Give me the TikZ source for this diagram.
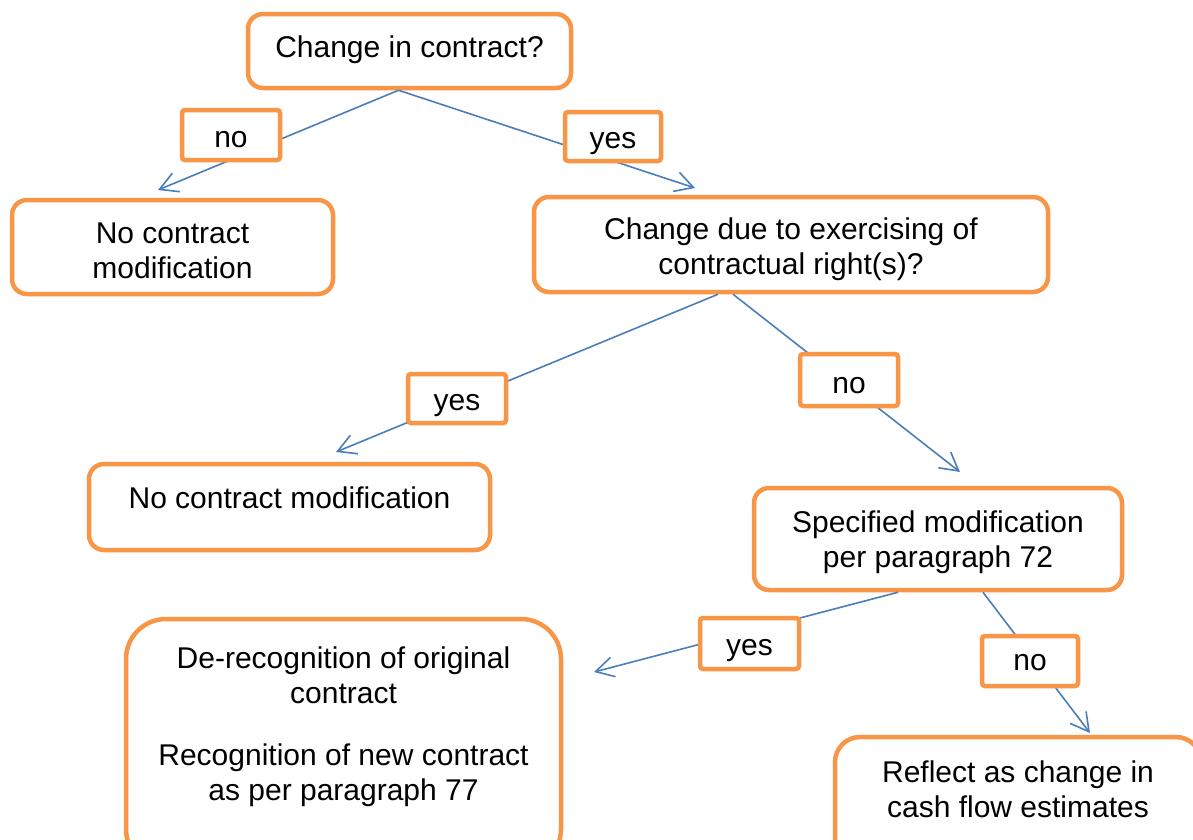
\documentclass[tikz,border=0pt]{standalone}
\usepackage{fontspec}
\setmainfont{Liberation Sans}
\usetikzlibrary{arrows.meta}
\definecolor{boxorange}{HTML}{F79646}
\definecolor{linkblue}{HTML}{4A7EBB}
\begin{document}
\begin{tikzpicture}[x=1pt,y=-1pt,
  txt/.style={font=\fontsize{30}{35}\selectfont, align=center, anchor=base, inner sep=0pt},
  bigbox/.style={draw=boxorange, line width=4.5pt, rounded corners=15pt, fill=white, inner sep=0pt},
  lab/.style={draw=boxorange, line width=4.5pt, rounded corners=3pt, fill=white, inner sep=0pt},
  link/.style={draw=linkblue, line width=1.6pt, -{Straight Barb[length=18pt,width=20pt]}},
]
\clip (0,0) rectangle (1193,839);
\fill[white] (0,0) rectangle (1193,839);

% main boxes
\node[bigbox, minimum width=323pt, minimum height=74pt] (top) at (409.5,51) {};
\node[bigbox, minimum width=321pt, minimum height=94pt] (ncmA) at (172.5,247) {};
\node[bigbox, minimum width=514pt, minimum height=95pt] (cdue) at (791,244.5) {};
\node[bigbox, minimum width=401pt, minimum height=86pt] (ncmB) at (289.5,507) {};
\node[bigbox, minimum width=368pt, minimum height=102pt] (spec) at (938,539) {};
\node[bigbox, rounded corners=40pt, minimum width=435pt, minimum height=250pt] (derec) at (343.5,744) {};
\node[bigbox, rounded corners=25pt, minimum width=366pt, minimum height=150pt] (reflect) at (1018,812) {};

% box texts (base = baseline of last line)
\node[txt] (toptext) at (409.5,57) {Change in contract?};
\node[txt] (ncmAtext) at (172.5,278) {No contract\\modification};
\node[txt] (cduetext) at (791,274) {Change due to exercising of\\contractual right(s)?};
\node[txt] (ncmBtext) at (289.5,508) {No contract modification};
\node[txt] (spectext) at (938,567) {Specified modification\\per paragraph 72};
\node[txt] (derectext) at (343.5,800) {De-recognition of original\\contract\\[27pt]Recognition of new contract\\as per paragraph 77};
\node[txt] (reflecttext) at (1018,817) {Reflect as change in\\cash flow estimates};

% arrow tips
\coordinate (t1) at (158,190);
\coordinate (t2) at (695,188);
\coordinate (t3) at (336,452);
\coordinate (t4) at (960,472);
\coordinate (t5) at (594,672);
\coordinate (t6) at (1090,733);

% connectors
\draw[link] ([xshift=-11pt]top.south) -- (t1);
\draw[link] ([xshift=-11pt]top.south) -- (t2);
\draw[link] ([xshift=-73pt]cdue.south) -- (t3);
\draw[link] ([xshift=-58pt]cdue.south) -- (t4);
\draw[link] ([xshift=-40pt]spec.south) -- (t5);
\draw[link] ([xshift=45pt]spec.south) -- (t6);

% labels
\node[lab, minimum width=98pt, minimum height=50pt] (noA) at (231,135) {};
\node[lab, minimum width=96pt, minimum height=49pt] (yesA) at (613,136.5) {};
\node[lab, minimum width=98pt, minimum height=49pt] (yesB) at (457,398.5) {};
\node[lab, minimum width=98pt, minimum height=52pt] (noB) at (849,380) {};
\node[lab, minimum width=99pt, minimum height=51pt] (yesC) at (749.5,643.5) {};
\node[lab, minimum width=96pt, minimum height=50pt] (noC) at (1030,661) {};
\node[txt] (noAtext) at (noA |- 0,147) {no};
\node[txt] (yesAtext) at (yesA |- 0,148) {yes};
\node[txt] (yesBtext) at (yesB |- 0,410) {yes};
\node[txt] (noBtext) at (noB |- 0,393) {no};
\node[txt] (yesCtext) at (yesC |- 0,655) {yes};
\node[txt] (noCtext) at (noC |- 0,670) {no};
\end{tikzpicture}
\end{document}
